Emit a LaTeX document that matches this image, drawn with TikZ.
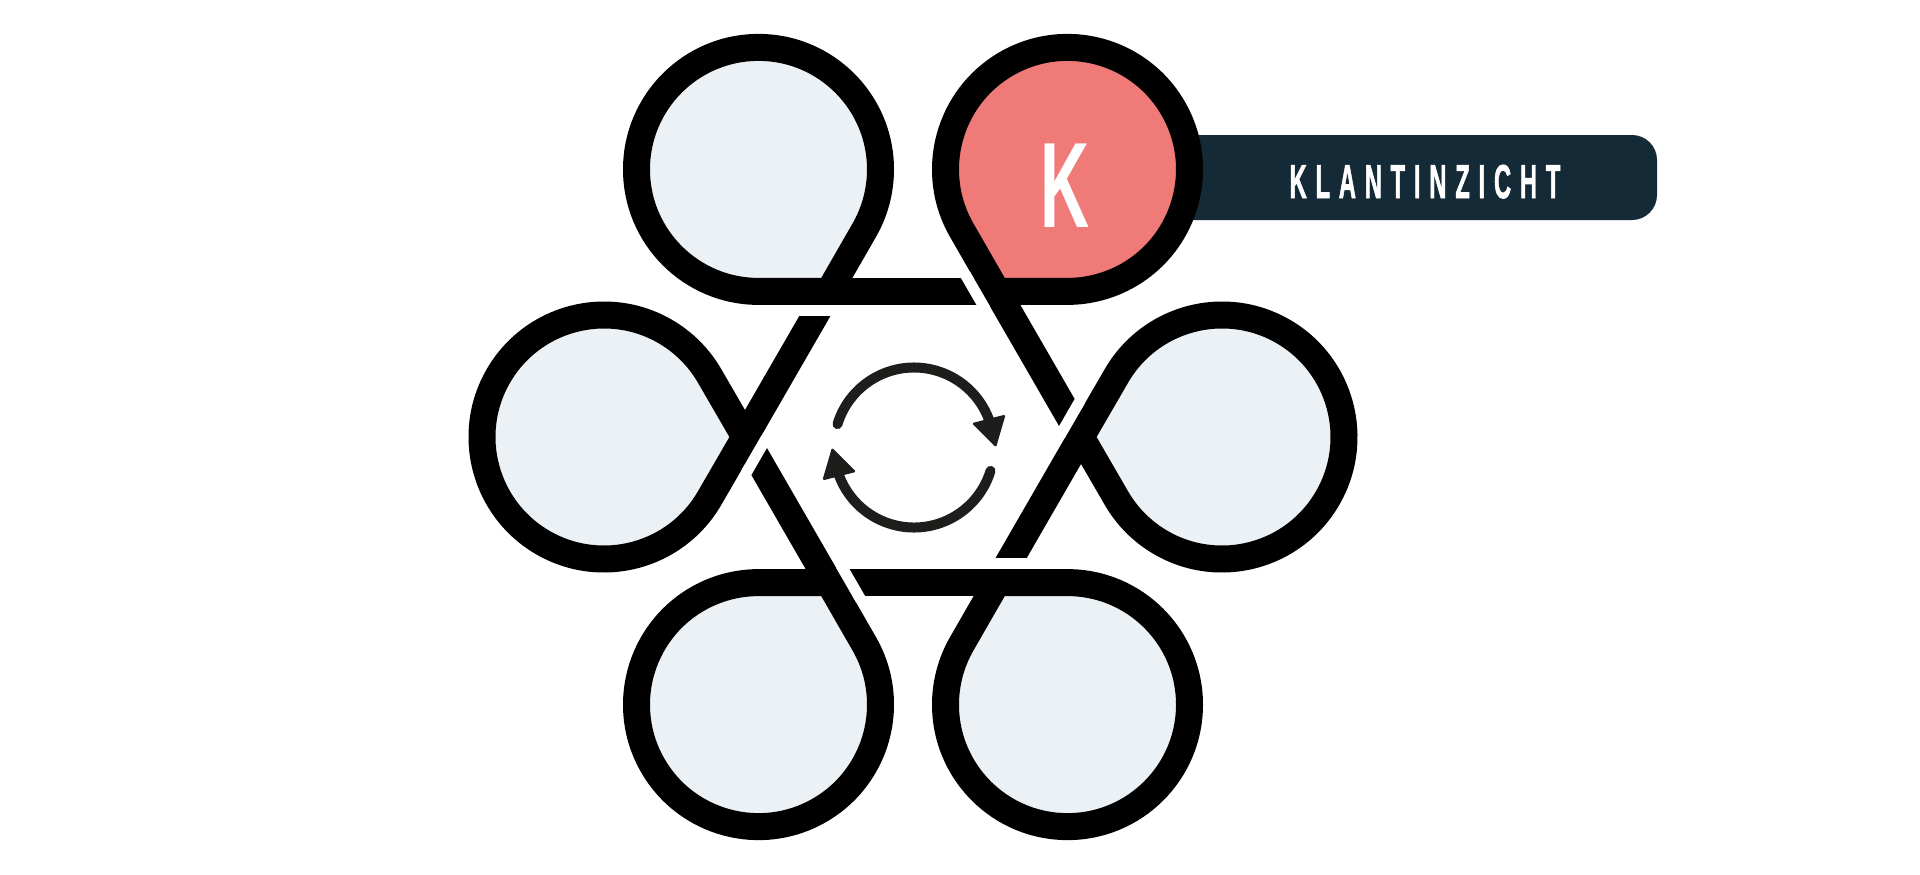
\documentclass[tikz,border=0pt]{standalone}
\usepackage{amsmath}
\usepackage{color, xcolor}
\usepackage{fontspec}
\setmainfont{Liberation Sans}
\usepackage{tikz}
\usetikzlibrary{ 
	calc,
	arrows.meta,
	shapes,
	positioning
	}
\definecolor{bladgrijs}{HTML}{ECF1F5}
\definecolor{zalm}{HTML}{F07A78}
\definecolor{nacht}{HTML}{142A36}
\definecolor{pijlzwart}{HTML}{1D1D1B}
\tikzstyle{blad-std}=[draw=black,fill=bladgrijs,line width=13.5pt,line join=miter]
\tikzstyle{lint-std}=[draw=black,line width=13.5pt,line cap=butt]
\tikzstyle{snede}=[draw=white,line width=5.5pt]
\tikzstyle{kring-std}=[draw=pijlzwart,line width=5pt,line cap=round]
\tikzstyle{punt-std}=[fill=pijlzwart,rounded corners=0.8pt]

\begin{document}
\begin{tikzpicture}[x=0.5pt,y=0.5pt]
\fill[white] (-913,-437) rectangle (1007,437);
\useasboundingbox (-913,-437) rectangle (1007,437);

\coordinate (blad0) at (180:309);
\coordinate (blad1) at (120:309);
\coordinate (blad2) at (60:309);
\coordinate (blad3) at (0:309);
\coordinate (blad4) at (-60:309);
\coordinate (blad5) at (-120:309);
\coordinate (hoek0) at (180:168);
\coordinate (hoek1) at (120:168);
\coordinate (hoek2) at (60:168);
\coordinate (hoek3) at (0:168);
\coordinate (hoek4) at (-60:168);
\coordinate (hoek5) at (-120:168);

% balk achter het K-blad
\fill[nacht,rounded corners=12.5pt] (187,217) rectangle (744,302);

% bladen
\filldraw[blad-std] (hoek0) -- ($(blad0)+(330:122)$) arc[start angle=330,end angle=30,radius=122] -- cycle;
\filldraw[blad-std] (hoek1) -- ($(blad1)+(270:122)$) arc[start angle=270,end angle=-30,radius=122] -- cycle;
\filldraw[blad-std,fill=zalm] (hoek2) -- ($(blad2)+(210:122)$) arc[start angle=210,end angle=-90,radius=122] -- cycle;
\filldraw[blad-std] (hoek3) -- ($(blad3)+(150:122)$) arc[start angle=150,end angle=-150,radius=122] -- cycle;
\filldraw[blad-std] (hoek4) -- ($(blad4)+(90:122)$) arc[start angle=90,end angle=-210,radius=122] -- cycle;
\filldraw[blad-std] (hoek5) -- ($(blad5)+(30:122)$) arc[start angle=30,end angle=-270,radius=122] -- cycle;

% lint tussen de hoeken
\draw[lint-std] (hoek0) -- (hoek1);
\draw[lint-std] (hoek1) -- (hoek2);
\draw[lint-std] (hoek2) -- (hoek3);
\draw[lint-std] (hoek3) -- (hoek4);
\draw[lint-std] (hoek4) -- (hoek5);
\draw[lint-std] (hoek5) -- (hoek0);

% onderdoorgangen
\draw[snede] ($(hoek0)+(300:21.9)+(60:20)$) -- ($(hoek0)+(300:21.9)+(240:20)$);
\draw[snede] ($(hoek1)+(240:21.9)+(0:20)$) -- ($(hoek1)+(240:21.9)+(180:20)$);
\draw[snede] ($(hoek2)+(180:21.9)+(300:20)$) -- ($(hoek2)+(180:21.9)+(120:20)$);
\draw[snede] ($(hoek3)+(120:21.9)+(240:20)$) -- ($(hoek3)+(120:21.9)+(60:20)$);
\draw[snede] ($(hoek4)+(60:21.9)+(180:20)$) -- ($(hoek4)+(60:21.9)+(0:20)$);
\draw[snede] ($(hoek5)+(0:21.9)+(120:20)$) -- ($(hoek5)+(0:21.9)+(300:20)$);

% kringloop
\coordinate (draai) at (1,-10.5);
\coordinate (punt1) at ($(draai)+(0:82)$);
\coordinate (voet1) at ($(draai)+(21:80)$);
\coordinate (punt2) at ($(draai)+(180:82)$);
\coordinate (voet2) at ($(draai)+(201:80)$);
\draw[kring-std] ($(draai)+(163:80)$) arc[start angle=163,end angle=17,radius=80];
\draw[kring-std] ($(draai)+(343:80)$) arc[start angle=343,end angle=197,radius=80];
\fill[punt-std] (punt1) -- ($(voet1)!8.75pt!90:(punt1)$) -- ($(voet1)!8.75pt!-90:(punt1)$) -- cycle;
\fill[punt-std] (punt2) -- ($(voet2)!8.75pt!90:(punt2)$) -- ($(voet2)!8.75pt!-90:(punt2)$) -- cycle;

\node[anchor=base,text=white,inner sep=0pt] (letterK) at ($(blad2)+(-2,-57.6)$) {\fontsize{60.75pt}{60pt}\selectfont\bfseries\scalebox{0.56}[1]{K}};
\node[anchor=base,text=white,inner sep=0pt] (titel) at (512,239) {\fontsize{23.75pt}{24pt}\selectfont\bfseries\scalebox{0.5}[1]{\addfontfeature{LetterSpace=37,FakeBold=2}KLANTINZICHT}};
\end{tikzpicture}
\end{document}
